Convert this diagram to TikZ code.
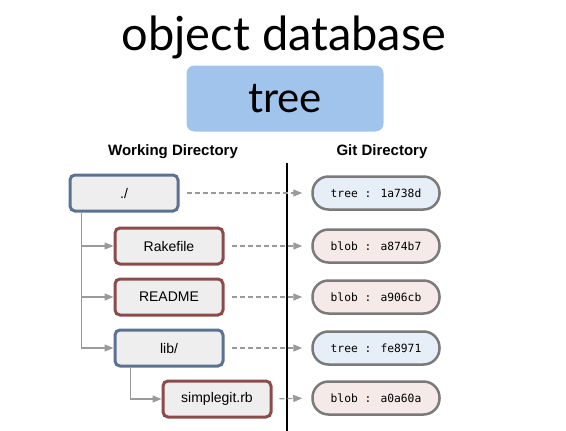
\documentclass[tikz,border=0pt]{standalone}
\usepackage{fontspec}
\setmainfont{Liberation Sans}
\newfontfamily\titlefont{Lato}
\newfontfamily\monofont{DejaVu Sans Mono}
\usetikzlibrary{arrows.meta}
\definecolor{dirborder}{HTML}{5B7391}
\definecolor{fileborder}{HTML}{8C4B4B}
\definecolor{boxfill}{HTML}{EEEEEE}
\definecolor{treefill}{HTML}{E6EEF8}
\definecolor{blobfill}{HTML}{F5EAE7}
\definecolor{pillborder}{HTML}{7A7A7A}
\definecolor{linegray}{HTML}{9A9A9A}
\definecolor{titleblue}{HTML}{A0C4EC}
\tikzset{
  wbox/.style={draw, line width=3pt, fill=boxfill, rounded corners=5pt, minimum width=108pt, minimum height=36pt, inner sep=0pt, font=\fontsize{14}{16}\selectfont},
  dirbox/.style={wbox, draw=dirborder},
  filebox/.style={wbox, draw=fileborder},
  pill/.style={draw=pillborder, line width=2.5pt, rounded corners=16pt, minimum width=127pt, minimum height=33pt, inner sep=0pt, font=\monofont\fontsize{11.3}{13}\selectfont},
  treepill/.style={pill, fill=treefill},
  blobpill/.style={pill, fill=blobfill},
  treeline/.style={draw=linegray, line width=1.3pt, -{Triangle[length=9pt,width=7pt]}},
  dasharrow/.style={draw=linegray, line width=1.3pt, dash pattern=on 5pt off 3pt, -{Triangle[length=9pt,width=7pt]}, shorten <=7pt, shorten >=9pt},
  header/.style={font=\bfseries\fontsize{15}{18}\selectfont}
}
\begin{document}
\begin{tikzpicture}[x=1pt,y=-1pt]
\useasboundingbox (0,0) rectangle (566,431);
\node[font=\titlefont\fontsize{47}{50}\selectfont] (title) at (284,37) {object database};
\node[fill=titleblue, rounded corners=8pt, minimum width=197pt, minimum height=66pt, inner sep=0pt, font=\titlefont\fontsize{42}{46}\selectfont] (treebox) at (285,98.5) {tree};
\node[header] (wd) at (173,152) {Working Directory};
\node[header] (gd) at (382,152) {Git Directory};
\coordinate (vtop) at (287,163);
\coordinate (vbot) at (287,431);
\draw[line width=1.5pt] (vtop) -- (vbot);

\node[dirbox] (root) at (124,193) {./};
\node[filebox] (rake) at (169,246) {Rakefile};
\node[filebox] (readme) at (169,297) {README};
\node[dirbox] (lib) at (169,348) {lib/};
\node[filebox] (simple) at (217,399) {simplegit.rb};

\node[treepill] (t1) at (376,193) {tree : 1a738d};
\node[blobpill] (b1) at (376,246) {blob : a874b7};
\node[blobpill] (b2) at (376,297) {blob : a906cb};
\node[treepill] (t2) at (376,348) {tree : fe8971};
\node[blobpill] (b3) at (376,398) {blob : a0a60a};

\draw[treeline] ([xshift=13pt]root.south west) |- (rake.west);
\draw[treeline] ([xshift=13pt]root.south west) |- (readme.west);
\draw[treeline] ([xshift=13pt]root.south west) |- (lib.west);
\draw[treeline] ([xshift=17pt]lib.south west) |- (simple.west);

\draw[dasharrow] (root.east) -- (t1.west);
\draw[dasharrow] (rake.east) -- (b1.west);
\draw[dasharrow] (readme.east) -- (b2.west);
\draw[dasharrow] (lib.east) -- (t2.west);
\draw[dasharrow] (simple.east) -- (b3.west);
\end{tikzpicture}
\end{document}
